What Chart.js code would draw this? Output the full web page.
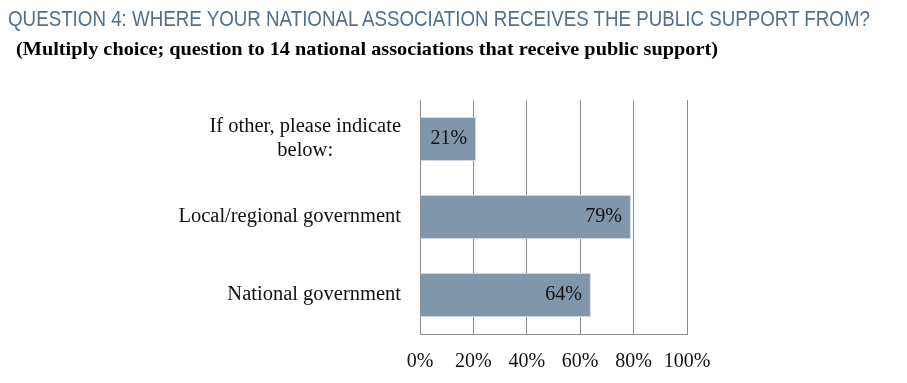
<!DOCTYPE html>
<html>
<head>
<meta charset="utf-8">
<script src="https://cdn.jsdelivr.net/npm/chart.js@4.4.1/dist/chart.umd.min.js"></script>
<style>
  body { margin: 0; background: #fff; }
  #wrap { position: relative; width: 907px; height: 383px; overflow: hidden; }
  #title, #subtitle { position: absolute; white-space: nowrap; transform-origin: 0 0; line-height: 1; }
  #title { left: 8px; top: 6px; font: 22px "Liberation Sans", Arial, sans-serif; color: #536f8a; }
  #subtitle { left: 16px; top: 38px; font: bold 19px "Liberation Serif", serif; color: #000; }
  canvas { position: absolute; left: 0; top: 0; }
</style>
</head>
<body>
<div id="wrap">
  <canvas id="chart" width="907" height="383"></canvas>
  <div id="title">QUESTION 4: WHERE YOUR NATIONAL ASSOCIATION RECEIVES THE PUBLIC SUPPORT FROM?</div>
  <div id="subtitle">(Multiply choice; question to 14 national associations that receive public support)</div>
</div>
<script>
// chart data
const categories = [["If other, please indicate", "below:"], "Local/regional government", "National government"];
const values = [21, 79, 64];
const xMin = 0;
const xMax = 100;
const xStep = 20;

const serif = '"Liberation Serif", "Times New Roman", serif';
const barColor = "#7f96ab";
const gridColor = "#8c8c8c";

// squeeze header text to the widths seen in the original
function fitWidth(id, target) {
  const el = document.getElementById(id);
  const w = el.getBoundingClientRect().width;
  el.style.transform = "scaleX(" + (target / w) + ")";
}
fitWidth("title", 862);
fitWidth("subtitle", 702);

// category labels: block right aligned, lines centered inside the block
const categoryLabels = {
  id: "categoryLabels",
  afterDraw(chart) {
    const ctx = chart.ctx;
    const yScale = chart.scales.y;
    const right = chart.chartArea.left - 19;
    const lineH = 24;
    ctx.save();
    ctx.font = "20.5px " + serif;
    ctx.fillStyle = "#111";
    ctx.textBaseline = "middle";
    ctx.textAlign = "center";
    categories.forEach((label, i) => {
      const lines = Array.isArray(label) ? label : [label];
      const widest = Math.max(...lines.map((l) => ctx.measureText(l).width));
      const cx = right - widest / 2;
      const y0 = yScale.getPixelForTick(i) - ((lines.length - 1) * lineH) / 2;
      lines.forEach((l, j) => ctx.fillText(l, cx, y0 + j * lineH));
    });
    ctx.restore();
  },
};

// value labels at the inner end of each bar
const valueLabels = {
  id: "valueLabels",
  afterDatasetsDraw(chart) {
    const ctx = chart.ctx;
    const meta = chart.getDatasetMeta(0);
    ctx.save();
    ctx.font = "20px " + serif;
    ctx.fillStyle = "#111";
    ctx.textBaseline = "middle";
    ctx.textAlign = "right";
    meta.data.forEach((bar, i) => {
      ctx.fillText(values[i] + "%", bar.x - 9, bar.y);
    });
    ctx.restore();
  },
};

new Chart(document.getElementById("chart"), {
  type: "bar",
  data: {
    labels: categories,
    datasets: [
      {
        data: values,
        backgroundColor: barColor,
        borderColor: "#cdd6df",
        borderWidth: 1,
        barPercentage: 0.565,
        categoryPercentage: 1,
      },
    ],
  },
  options: {
    indexAxis: "y",
    responsive: false,
    animation: false,
    layout: { padding: { top: 100, right: 220, bottom: 1, left: 0 } },
    plugins: {
      legend: { display: false },
      tooltip: { enabled: false },
      title: { display: false },
    },
    scales: {
      x: {
        min: xMin,
        max: xMax,
        ticks: {
          stepSize: xStep,
          padding: 16,
          color: "#111",
          font: { family: serif, size: 20 },
          callback: (v) => v + "%",
        },
        grid: { color: gridColor, drawTicks: false },
        border: { color: gridColor },
        afterFit: (scale) => { scale.height = 48; },
      },
      y: {
        ticks: { display: false },
        grid: { display: false, drawTicks: false },
        border: { color: gridColor },
        afterFit: (scale) => { scale.width = 420; },
      },
    },
  },
  plugins: [categoryLabels, valueLabels],
});
</script>
</body>
</html>
